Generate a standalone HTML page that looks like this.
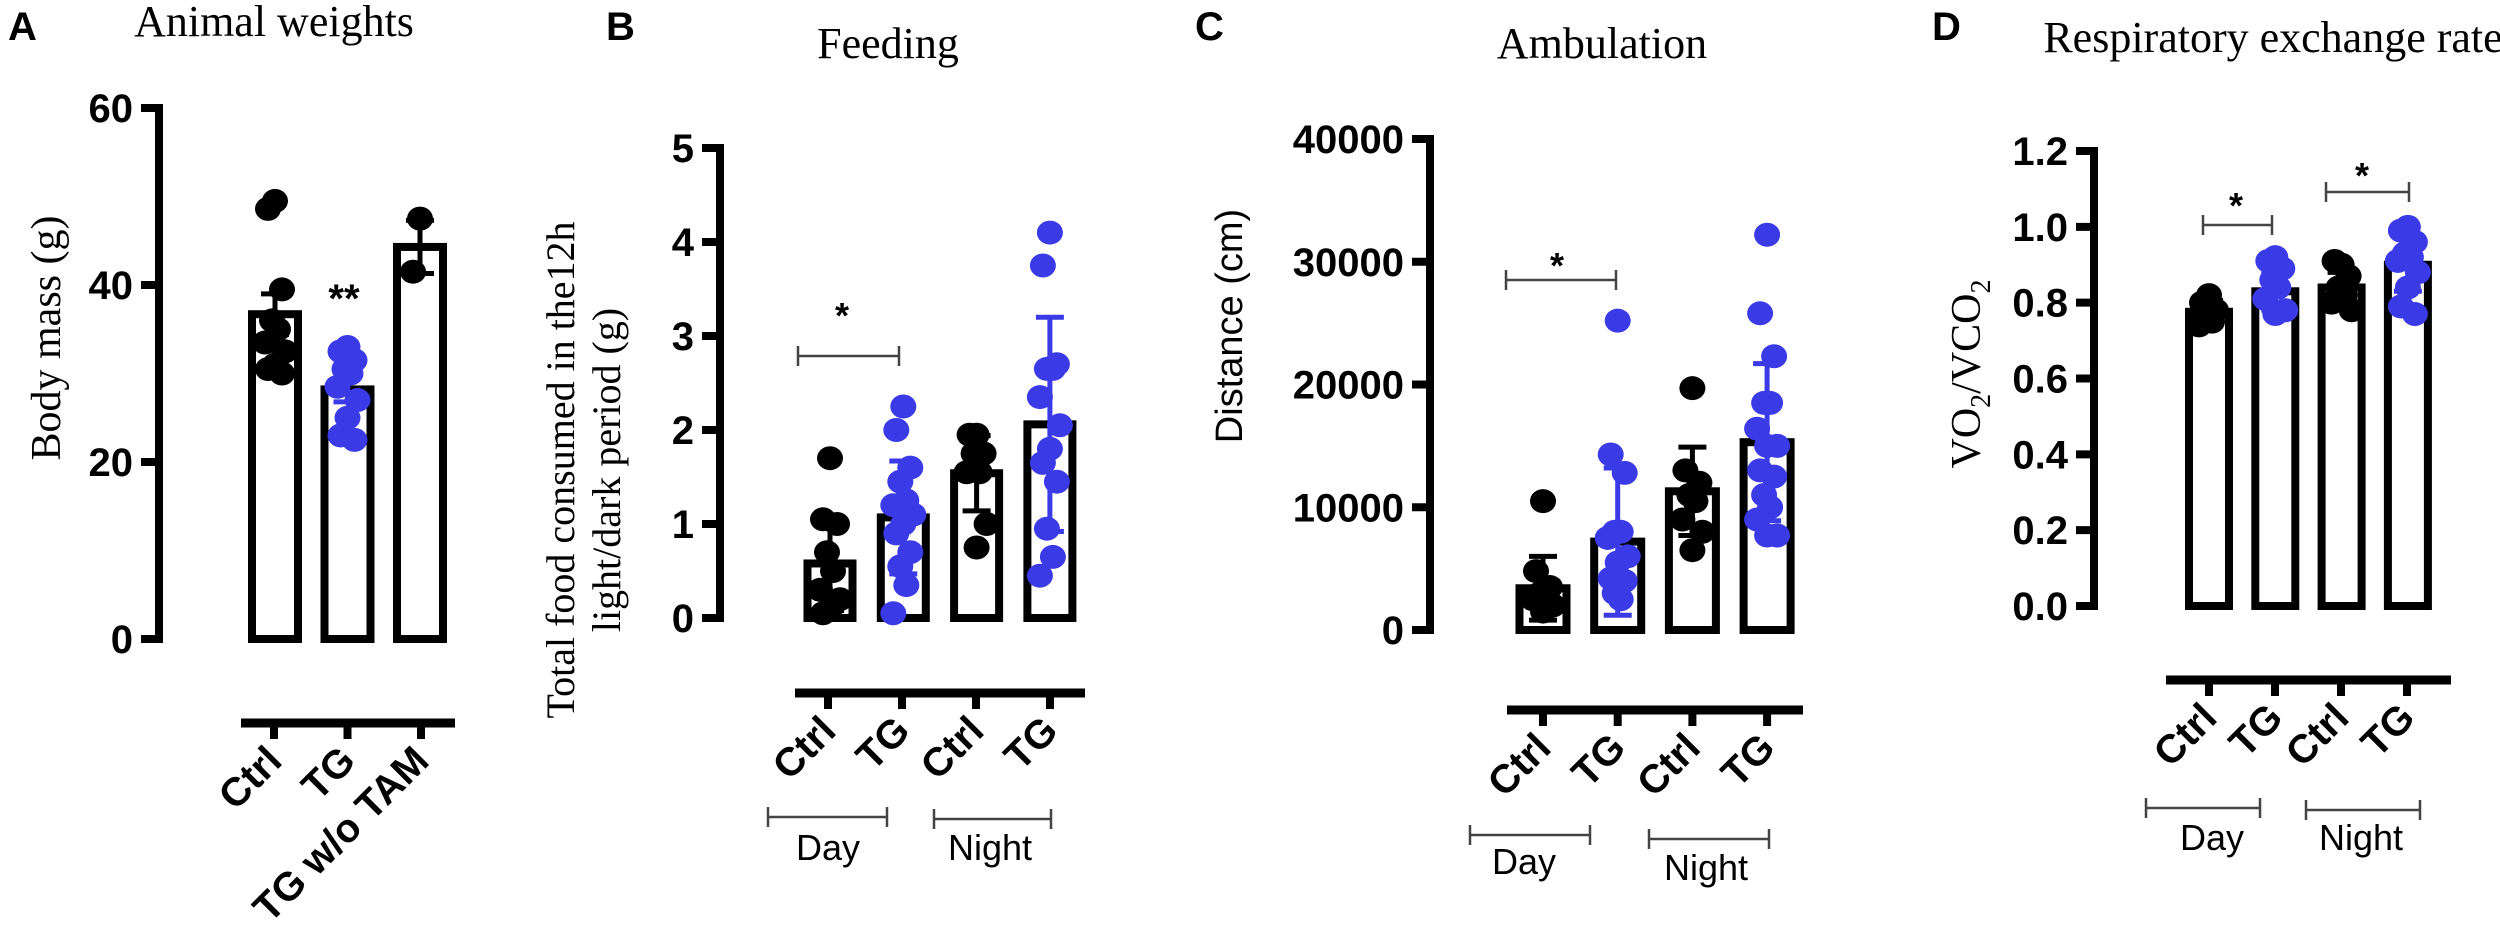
<!DOCTYPE html>
<html><head><meta charset="utf-8"><style>
body{margin:0;background:#fff;width:2500px;height:945px;overflow:hidden}
svg{display:block}
.sans{font-family:"Liberation Sans",Arial,sans-serif}
.serif{font-family:"Liberation Serif","Times New Roman",serif}
</style></head><body>
<svg id="fig" width="2500" height="945" viewBox="0 0 2500 945">
<g class="sans" font-weight="bold" font-size="40">
<text x="8" y="40">A</text>
<text x="606" y="40">B</text>
<text x="1195" y="40">C</text>
<text x="1932" y="40">D</text>
</g>
<g class="serif" font-size="44" text-anchor="middle">
<text x="274" y="36">Animal weights</text>
<text x="888" y="58">Feeding</text>
<text x="1602" y="58">Ambulation</text>
<text x="2273" y="52">Respiratory exchange rate</text>
</g>
<g class="serif" font-size="42" text-anchor="middle">
<text transform="translate(60,338) rotate(-90)">Body mass (g)</text>
<text transform="translate(574,470) rotate(-90)" font-size="40">Total food consumed in the12h</text>
<text transform="translate(620,470) rotate(-90)" font-size="40">light/dark period (g)</text>
<text transform="translate(1980,374) rotate(-90)">VO<tspan font-size="28" dy="10">2</tspan><tspan dy="-10">/VCO</tspan><tspan font-size="28" dy="10">2</tspan></text>
</g>
<text class="sans" font-size="38" text-anchor="middle" transform="translate(1242,326) rotate(-90)">Distance (cm)</text>
</svg>
<script>
// ---- Panel A data ----
const aCats = ["Ctrl","TG","TG w/o TAM"];
const aMeans = [36.7, 28.2, 44.3];
const aErr = [2.3, 1.4, 3.0];
const aTicks = [0,20,40,60];
const aPts0 = [49.5,48.6,39.5,36,35,33.5,32.5,31,30.5,30];
const aPts1 = [33,32.5,31.5,30.5,30,28.5,27,25,23,22.5];
const aPts2 = [47.5,41.5];
// ---- Panel B data ----
const bCats = ["Ctrl","TG","Ctrl","TG"];
const bMeans = [0.58,1.07,1.54,2.06];
const bErr = [0.5,0.6,0.4,1.14];
const bTicks = [0,1,2,3,4,5];
const bPts0 = [1.7,1.05,1.0,0.7,0.5,0.3,0.2,0.1,0.05];
const bPts1 = [2.25,2.0,1.6,1.45,1.25,1.2,1.1,1.0,0.9,0.7,0.55,0.35,0.05];
const bPts2 = [1.95,1.95,1.75,1.75,1.55,1.55,1.0,0.75];
const bPts3 = [4.1,3.75,2.7,2.65,2.65,2.35,2.05,1.8,1.65,1.45,0.95,0.65,0.45];
// ---- Panel C data ----
const cCats = ["Ctrl","TG","Ctrl","TG"];
const cMeans = [3400,7200,11300,15300];
const cErr = [2600,6000,3600,6400];
const cTicks = [0,10000,20000,30000,40000];
const cPts0 = [10500,4800,3500,3000,2800,2500,2000,1500];
const cPts1 = [25200,14300,12800,8000,8000,7500,6000,5500,4200,4000,3000,2500];
const cPts2 = [19700,13000,12000,11000,10500,9000,8000,6500];
const cPts3 = [32200,25800,22300,18500,18500,16400,15000,15000,13000,12500,11000,10000,9000,7700,7700];
// ---- Panel D data ----
const dCats = ["Ctrl","TG","Ctrl","TG"];
const dMeans = [0.776,0.83,0.84,0.90];
const dErr = [0.03,0.05,0.04,0.07];
const dTicks = ["0.0","0.2","0.4","0.6","0.8","1.0","1.2"];
const dPts0 = [0.82,0.80,0.78,0.76,0.75,0.74];
const dPts1 = [0.92,0.91,0.89,0.86,0.84,0.81,0.78,0.77];
const dPts2 = [0.90,0.91,0.87,0.84,0.82,0.80,0.78];
const dPts3 = [1.00,0.99,0.96,0.93,0.92,0.91,0.88,0.84,0.79,0.77];

const NS="http://www.w3.org/2000/svg";
const svg=document.getElementById('fig');
const BLUE="#3a3ae6";
function mk(tag,attrs,parent){const e=document.createElementNS(NS,tag);for(const k in attrs)e.setAttribute(k,attrs[k]);(parent||svg).appendChild(e);return e;}

function panel(p,cats,means,errs,ticks,pts,colors,g){
  const grp=mk('g',{});
  
  
  const ymin=0,ymax=Number(ticks[ticks.length-1]);
  const y=v=>g.y0-(v-ymin)/(ymax-ymin)*(g.y0-g.y1);
  const ax=mk('line',{x1:g.ax,x2:g.ax,y1:g.y1-4,y2:g.y0+4,stroke:'#000','stroke-width':8},grp);
  
  
  ticks.forEach(t=>{
    const v=Number(t);
    mk('line',{x1:g.ax-18,x2:g.ax,y1:y(v),y2:y(v),stroke:'#000','stroke-width':8},grp);
    const tx=mk('text',{x:g.ax-26,y:y(v)+14,'text-anchor':'end','font-size':40,'font-weight':'bold',class:'sans'},grp);
    tx.textContent=t;
    
    
  });
  const xa=mk('line',{x1:g.xa0,x2:g.xa1,y1:g.xy,y2:g.xy,stroke:'#000','stroke-width':9},grp);
  
  
  const cx=i=>g.c0+i*g.step;
  const tx0=i=>g.t0+i*g.tstep;
  cats.forEach((c,i)=>{
    mk('line',{x1:tx0(i),x2:tx0(i),y1:g.xy,y2:g.xy+16,stroke:'#000','stroke-width':8},grp);
    const lx=tx0(i)+10, ly=g.xy+40;
    const t=mk('text',{x:lx,y:ly,'text-anchor':'end','font-size':40,'font-weight':'bold',class:'sans',transform:`rotate(-45 ${lx} ${ly})`},grp);
    t.textContent=c;
    
    
  });
  means.forEach((m,i)=>{
    const b=mk('rect',{x:cx(i)-g.bw/2,y:y(m),width:g.bw,height:y(0)-y(m),fill:'#fff',stroke:'#000','stroke-width':8},grp);
    
    
  });
  pts.forEach((arr,i)=>{
    arr.forEach((v,j)=>{
      const off=[0,-7,7,-3,3,-10,10][j%7];
      const d=mk('ellipse',{cx:cx(i)+off,cy:y(v),rx:13,ry:12,fill:colors[i]},grp);
      
      
    });
  });
  means.forEach((m,i)=>{
    const hi=y(m+errs[i]), lo=y(Math.max(0,m-errs[i]));
    const e=mk('path',{d:`M${cx(i)},${lo}V${hi}M${cx(i)-14},${hi}H${cx(i)+14}M${cx(i)-14},${lo}H${cx(i)+14}`,stroke:colors[i],'stroke-width':5,fill:'none'},grp);
    
    
  });
  return grp;
}
const K="#000";
panel('a',aCats,aMeans,aErr,aTicks,[aPts0,aPts1,aPts2],[K,BLUE,K],
 {ax:159,y1:108,y0:639,xa0:241,xa1:455,xy:723,c0:275,step:72.5,bw:46,t0:274,tstep:73.5});
panel('b',bCats,bMeans,bErr,bTicks,[bPts0,bPts1,bPts2,bPts3],[K,BLUE,K,BLUE],
 {ax:720,y1:148,y0:618,xa0:795,xa1:1085,xy:693,c0:830,step:73.3,bw:45,t0:828,tstep:74});
panel('c',cCats,cMeans,cErr,cTicks,[cPts0,cPts1,cPts2,cPts3],[K,BLUE,K,BLUE],
 {ax:1430,y1:139,y0:630,xa0:1507,xa1:1803,xy:710,c0:1543,step:74.7,bw:47,t0:1543,tstep:74.7});
panel('d',dCats,dMeans,dErr,dTicks,[dPts0,dPts1,dPts2,dPts3],[K,BLUE,K,BLUE],
 {ax:2094,y1:151,y0:606,xa0:2166,xa1:2451,xy:680,c0:2209,step:66.3,bw:40,t0:2209,tstep:66});

function bracket(name,x1,x2,yy){
  const e=mk('path',{d:`M${x1},${yy-10}V${yy+10}M${x1},${yy}H${x2}M${x2},${yy-10}V${yy+10}`,stroke:'#444','stroke-width':2.5,fill:'none'});
  
  
}
function label(name,txt,x,yy,fs,bold){
  const t=mk('text',{x:x,y:yy,'text-anchor':'middle','font-size':fs,class:'sans','font-weight':bold?'bold':'normal'});
  t.textContent=txt;
  
  
}
label('significance-a','**',344,312,40,true);
bracket('sig-bracket-b',798,899,356); label('significance-b','*',842,328,36,true);
bracket('sig-bracket-c',1506,1616,280); label('significance-c','*',1557,278,36,true);
bracket('sig-bracket-d-day',2203,2272,225); label('significance-d-day','*',2236,218,36,true);
bracket('sig-bracket-d-night',2326,2409,192); label('significance-d-night','*',2362,188,36,true);
bracket('day-bracket-b',768,887,817); label('day-label-b','Day',828,860,36,false);
bracket('night-bracket-b',934,1051,819); label('night-label-b','Night',990,860,36,false);
bracket('day-bracket-c',1470,1590,835); label('day-label-c','Day',1524,874,36,false);
bracket('night-bracket-c',1649,1769,839); label('night-label-c','Night',1706,880,36,false);
bracket('day-bracket-d',2146,2260,808); label('day-label-d','Day',2212,850,36,false);
bracket('night-bracket-d',2306,2420,810); label('night-label-d','Night',2361,850,36,false);
</script>
</body></html>
